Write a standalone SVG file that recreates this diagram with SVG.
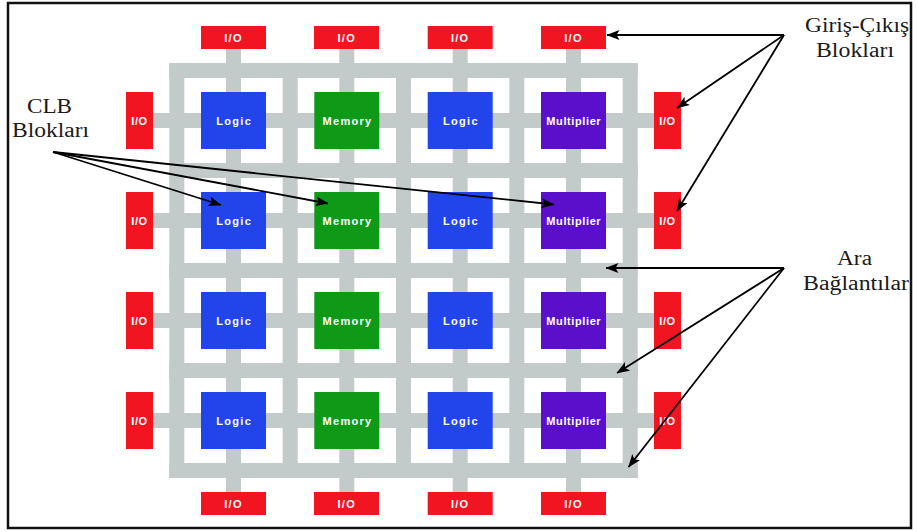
<svg xmlns="http://www.w3.org/2000/svg" width="917" height="532" viewBox="0 0 917 532">
<style>
.g{fill:#c3cbca}
.io{fill:#f01521}
.logic{fill:#2145ea}
.mem{fill:#0e9a16}
.mul{fill:#5a0fca}
.bt{font-family:"Liberation Sans",Arial,sans-serif;font-weight:bold;font-size:11px;fill:#ffffff;text-anchor:middle;letter-spacing:1.3px}
.lbl{font-family:"Liberation Serif","Times New Roman",serif;font-size:20.5px;fill:#1a1a1a}
.ar{stroke:#000;stroke-width:1.8;fill:none;marker-end:url(#ah)}
</style>
<defs>
<marker id="ah" viewBox="0 0 13 10" refX="12.5" refY="5" markerWidth="13" markerHeight="10" markerUnits="userSpaceOnUse" orient="auto">
<path d="M0,0 L13,5 L0,10 L3,5 Z" fill="#000"/>
</marker>
</defs>
<rect x="0" y="0" width="917" height="532" fill="#fff"/>
<rect x="8" y="3" width="903" height="525" fill="none" stroke="#111" stroke-width="2.5"/>

<g id="interconnect">
<!-- vertical grid lines -->
<rect class="g" x="169.3" y="63" width="15" height="415"/>
<rect class="g" x="226" y="49" width="15" height="443"/>
<rect class="g" x="282.7" y="63" width="15" height="415"/>
<rect class="g" x="339.3" y="49" width="15" height="443"/>
<rect class="g" x="396" y="63" width="15" height="415"/>
<rect class="g" x="452.7" y="49" width="15" height="443"/>
<rect class="g" x="509.3" y="63" width="15" height="415"/>
<rect class="g" x="566" y="49" width="15" height="443"/>
<rect class="g" x="622.7" y="63" width="15" height="415"/>
<!-- horizontal grid lines -->
<rect class="g" x="169.3" y="63" width="468.4" height="15"/>
<rect class="g" x="153" y="113" width="501" height="15"/>
<rect class="g" x="169.3" y="163" width="468.4" height="15"/>
<rect class="g" x="153" y="213" width="501" height="15"/>
<rect class="g" x="169.3" y="263" width="468.4" height="15"/>
<rect class="g" x="153" y="313" width="501" height="15"/>
<rect class="g" x="169.3" y="363" width="468.4" height="15"/>
<rect class="g" x="153" y="413" width="501" height="15"/>
<rect class="g" x="169.3" y="463" width="468.4" height="15"/>
</g>

<g id="io-top-1"><rect class="io" x="201" y="26" width="65" height="23"/><text class="bt" x="233.5" y="41.5">I/O</text></g>
<g id="io-top-2"><rect class="io" x="314" y="26" width="65" height="23"/><text class="bt" x="346.8" y="41.5">I/O</text></g>
<g id="io-top-3"><rect class="io" x="427.7" y="26" width="65" height="23"/><text class="bt" x="460.2" y="41.5">I/O</text></g>
<g id="io-top-4"><rect class="io" x="541" y="26" width="65" height="23"/><text class="bt" x="573.5" y="41.5">I/O</text></g>

<g id="io-bottom-1"><rect class="io" x="201" y="492" width="65" height="23"/><text class="bt" x="233.5" y="507.5">I/O</text></g>
<g id="io-bottom-2"><rect class="io" x="314" y="492" width="65" height="23"/><text class="bt" x="346.8" y="507.5">I/O</text></g>
<g id="io-bottom-3"><rect class="io" x="427.7" y="492" width="65" height="23"/><text class="bt" x="460.2" y="507.5">I/O</text></g>
<g id="io-bottom-4"><rect class="io" x="541" y="492" width="65" height="23"/><text class="bt" x="573.5" y="507.5">I/O</text></g>

<g id="io-left-1"><rect class="io" x="126" y="92" width="27" height="57"/><text class="bt" x="139.5" y="124.5" style="letter-spacing:0.6px">I/O</text></g>
<g id="io-left-2"><rect class="io" x="126" y="192" width="27" height="57"/><text class="bt" x="139.5" y="224.5" style="letter-spacing:0.6px">I/O</text></g>
<g id="io-left-3"><rect class="io" x="126" y="292" width="27" height="57"/><text class="bt" x="139.5" y="324.5" style="letter-spacing:0.6px">I/O</text></g>
<g id="io-left-4"><rect class="io" x="126" y="392" width="27" height="57"/><text class="bt" x="139.5" y="424.5" style="letter-spacing:0.6px">I/O</text></g>

<g id="io-right-1"><rect class="io" x="654" y="92" width="27" height="57"/><text class="bt" x="667.5" y="124.5" style="letter-spacing:0.6px">I/O</text></g>
<g id="io-right-2"><rect class="io" x="654" y="192" width="27" height="57"/><text class="bt" x="667.5" y="224.5" style="letter-spacing:0.6px">I/O</text></g>
<g id="io-right-3"><rect class="io" x="654" y="292" width="27" height="57"/><text class="bt" x="667.5" y="324.5" style="letter-spacing:0.6px">I/O</text></g>
<g id="io-right-4"><rect class="io" x="654" y="392" width="27" height="57"/><text class="bt" x="667.5" y="424.5" style="letter-spacing:0.6px">I/O</text></g>

<g id="logic-1"><rect class="logic" x="201" y="92" width="65" height="57"/><text class="bt" x="234.2" y="124.5">Logic</text></g>
<g id="memory-1"><rect class="mem" x="314.3" y="92" width="65" height="57"/><text class="bt" x="347.5" y="124.5">Memory</text></g>
<g id="logic-2"><rect class="logic" x="427.7" y="92" width="65" height="57"/><text class="bt" x="460.9" y="124.5">Logic</text></g>
<g id="multiplier-1"><rect class="mul" x="541" y="92" width="65" height="57"/><text class="bt" x="573.8" y="124.5" style="letter-spacing:0.6px">Multiplier</text></g>

<g id="logic-3"><rect class="logic" x="201" y="192" width="65" height="57"/><text class="bt" x="234.2" y="224.5">Logic</text></g>
<g id="memory-2"><rect class="mem" x="314.3" y="192" width="65" height="57"/><text class="bt" x="347.5" y="224.5">Memory</text></g>
<g id="logic-4"><rect class="logic" x="427.7" y="192" width="65" height="57"/><text class="bt" x="460.9" y="224.5">Logic</text></g>
<g id="multiplier-2"><rect class="mul" x="541" y="192" width="65" height="57"/><text class="bt" x="573.8" y="224.5" style="letter-spacing:0.6px">Multiplier</text></g>

<g id="logic-5"><rect class="logic" x="201" y="292" width="65" height="57"/><text class="bt" x="234.2" y="324.5">Logic</text></g>
<g id="memory-3"><rect class="mem" x="314.3" y="292" width="65" height="57"/><text class="bt" x="347.5" y="324.5">Memory</text></g>
<g id="logic-6"><rect class="logic" x="427.7" y="292" width="65" height="57"/><text class="bt" x="460.9" y="324.5">Logic</text></g>
<g id="multiplier-3"><rect class="mul" x="541" y="292" width="65" height="57"/><text class="bt" x="573.8" y="324.5" style="letter-spacing:0.6px">Multiplier</text></g>

<g id="logic-7"><rect class="logic" x="201" y="392" width="65" height="57"/><text class="bt" x="234.2" y="424.5">Logic</text></g>
<g id="memory-4"><rect class="mem" x="314.3" y="392" width="65" height="57"/><text class="bt" x="347.5" y="424.5">Memory</text></g>
<g id="logic-8"><rect class="logic" x="427.7" y="392" width="65" height="57"/><text class="bt" x="460.9" y="424.5">Logic</text></g>
<g id="multiplier-4"><rect class="mul" x="541" y="392" width="65" height="57"/><text class="bt" x="573.8" y="424.5" style="letter-spacing:0.6px">Multiplier</text></g>

<g id="label-clb">
<text class="lbl" x="27" y="113" textLength="45" lengthAdjust="spacingAndGlyphs">CLB</text>
<text class="lbl" x="12" y="137" textLength="77" lengthAdjust="spacingAndGlyphs">Blokları</text>
</g>
<g id="label-io">
<text class="lbl" x="805" y="32" textLength="104" lengthAdjust="spacingAndGlyphs">Giriş-Çıkış</text>
<text class="lbl" x="816" y="57" textLength="78" lengthAdjust="spacingAndGlyphs">Blokları</text>
</g>
<g id="label-ara">
<text class="lbl" x="837" y="265" textLength="35" lengthAdjust="spacingAndGlyphs">Ara</text>
<text class="lbl" x="803" y="290" textLength="106" lengthAdjust="spacingAndGlyphs">Bağlantılar</text>
</g>

<g id="connectors">
<line class="ar" x1="53" y1="152" x2="221" y2="205"/>
<line class="ar" x1="53" y1="152" x2="328" y2="203.5"/>
<line class="ar" x1="53" y1="152" x2="554" y2="204.5"/>
<line class="ar" x1="784" y1="35" x2="607" y2="35"/>
<line class="ar" x1="784" y1="35" x2="677" y2="108"/>
<line class="ar" x1="784" y1="35" x2="677" y2="211"/>
<line class="ar" x1="784" y1="268" x2="606" y2="268"/>
<line class="ar" x1="784" y1="268" x2="617" y2="373"/>
<line class="ar" x1="784" y1="268" x2="628.5" y2="467"/>
</g>
</svg>
